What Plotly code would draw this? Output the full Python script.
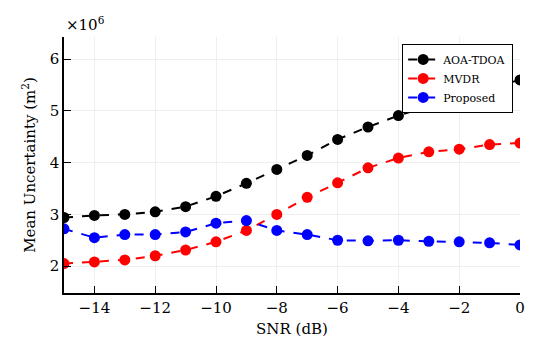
import plotly.graph_objects as go

snr = [-15, -14, -13, -12, -11, -10, -9, -8, -7, -6, -5, -4, -3, -2, -1, 0]
# values in units of 1e6 m^2
aoa_tdoa = [2.94, 2.98, 3.00, 3.05, 3.15, 3.35, 3.60, 3.87, 4.14, 4.45, 4.69, 4.91, 5.10, 5.28, 5.45, 5.60]
mvdr = [2.05, 2.08, 2.12, 2.20, 2.31, 2.47, 2.69, 3.00, 3.33, 3.61, 3.90, 4.09, 4.21, 4.26, 4.35, 4.38]
proposed = [2.72, 2.55, 2.61, 2.61, 2.66, 2.83, 2.88, 2.69, 2.61, 2.50, 2.49, 2.50, 2.48, 2.47, 2.45, 2.41]

FONT = "DejaVu Serif"

fig = go.Figure()
for name, vals, col in [("AOA-TDOA", aoa_tdoa, "black"),
                        ("MVDR", mvdr, "red"),
                        ("Proposed", proposed, "blue")]:
    fig.add_trace(go.Scatter(
        x=snr, y=vals, name=name, mode="lines+markers",
        line=dict(color=col, width=2, dash="dash"),
        marker=dict(color=col, size=11, symbol="circle"),
    ))

# page body has an 8px margin: figure starts at (8, 8) of the page
fig.update_layout(
    width=534, height=354,
    margin=dict(l=56, r=22, t=29, b=69, autoexpand=False),
    plot_bgcolor="white", paper_bgcolor="white",
    font=dict(family=FONT, size=15, color="black"),
    showlegend=True,
    legend=dict(
        x=0.985, y=0.973, xanchor="right", yanchor="top",
        bgcolor="white", bordercolor="black", borderwidth=1,
        font=dict(family=FONT, size=11, color="black"),
        tracegroupgap=0, itemwidth=30,
    ),
)
fig.update_xaxes(
    range=[-15, 0], tickvals=[-14, -12, -10, -8, -6, -4, -2, 0],
    tickfont=dict(family=FONT, size=15, color="black"),
    showline=True, linecolor="black", linewidth=1.5,
    ticks="inside", ticklen=7, tickcolor="black",
    showgrid=True, gridcolor="#efefef", gridwidth=1, zeroline=False,
    title=dict(text="SNR (dB)", font=dict(family=FONT, size=15), standoff=8),
    automargin=False,
)
fig.update_yaxes(
    range=[1.48, 6.43], tickvals=[2, 3, 4, 5, 6],
    tickfont=dict(family=FONT, size=15, color="black"),
    showline=True, linecolor="black", linewidth=1.5,
    ticks="inside", ticklen=7, tickcolor="black",
    showgrid=True, gridcolor="#efefef", gridwidth=1, zeroline=False,
    title=dict(text="Mean Uncertainty (m<sup>2</sup>)", font=dict(family=FONT, size=15), standoff=10),
    automargin=False,
)
fig.add_annotation(
    text="×10<sup>6</sup>", xref="paper", yref="paper", x=0, y=1.0,
    xanchor="left", yanchor="bottom", showarrow=False, yshift=1,
    font=dict(family=FONT, size=15),
)

fig.write_html("out.html")
